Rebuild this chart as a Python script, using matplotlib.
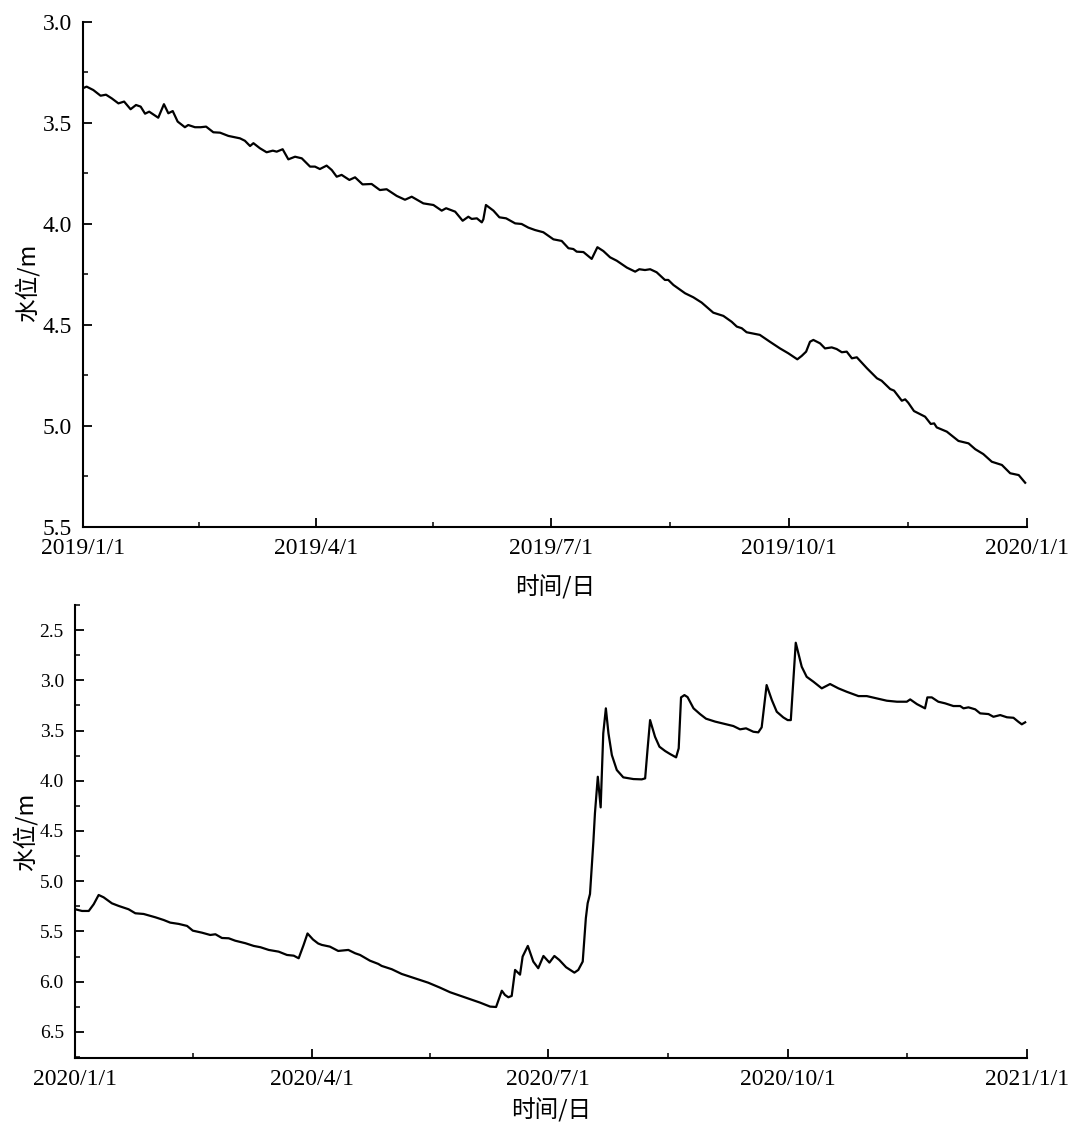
import matplotlib
matplotlib.use('Agg')
import matplotlib.pyplot as plt
import matplotlib.dates as mdates
from matplotlib.ticker import FixedLocator, FuncFormatter, MultipleLocator
import pandas as pd

plt.rcParams['font.family'] = ['Liberation Serif', 'Noto Sans CJK SC']

# ---------------- data ----------------
start_2019 = '2019-01-01'
days_2019 = [0, 1.4, 4, 6.8, 8.9, 11.1, 13.7, 15.9, 18.4, 20.5, 22.3, 24, 25.6, 29.1, 31.3, 33, 34.7,
             36.6, 39.4, 40.7, 43.3, 45.5, 47.6, 50.4, 53, 56.2, 60.7, 62.6, 64.6, 65.9, 68.4, 71, 73.4,
             74.9, 77.2, 79.4, 82, 84.6, 87.8, 89.7, 91.6, 94.2, 96.2, 98.1, 100, 103, 105.2, 108.1,
             111.6, 114.8, 117.4, 121.3, 124.5, 127.1, 131.6, 135.5, 138.7, 140.4, 143.9, 146.8, 149,
             150.3, 152.3, 154.2, 154.8, 155.8, 158.7, 161, 163.6, 167.1, 169.6, 172.2, 174.8, 178,
             181.9, 185.1, 187.7, 189.6, 190.9, 193.5, 196.7, 198.9, 201.2, 203.8, 206.4, 210.3, 213.5,
             215.1, 217.3, 219.3, 221.8, 225, 226.3, 228.3, 232.8, 236, 239.2, 243.7, 247.6, 250.8,
             252.8, 254.7, 256.6, 261.7, 265.6, 269.5, 272.7, 276.2, 277.9, 279.6, 281.1, 282.4, 285,
             286.9, 289.5, 291.4, 293.4, 295.3, 297.3, 299.2, 303.1, 307, 308.8, 312.1, 313.6, 316.6,
             317.9, 319.1, 321.3, 325.6, 327.8, 329.1, 330.1, 334, 338.5, 342.4, 345, 348.1, 351.4,
             355.3, 358.5, 361.8, 364.3]
level_2019 = [3.328, 3.320, 3.337, 3.365, 3.360, 3.378, 3.403, 3.394, 3.432, 3.411, 3.419, 3.454, 3.444,
              3.474, 3.407, 3.452, 3.441, 3.493, 3.521, 3.510, 3.521, 3.521, 3.518, 3.546, 3.548, 3.564,
              3.576, 3.588, 3.614, 3.600, 3.625, 3.645, 3.637, 3.642, 3.630, 3.680, 3.667, 3.675, 3.716,
              3.716, 3.728, 3.711, 3.733, 3.766, 3.757, 3.782, 3.769, 3.804, 3.802, 3.832, 3.828, 3.861,
              3.880, 3.865, 3.898, 3.906, 3.934, 3.922, 3.939, 3.984, 3.964, 3.975, 3.972, 3.992, 3.977,
              3.906, 3.934, 3.967, 3.972, 3.997, 4.000, 4.018, 4.030, 4.041, 4.076, 4.084, 4.120, 4.124,
              4.137, 4.139, 4.173, 4.115, 4.134, 4.165, 4.182, 4.216, 4.236, 4.224, 4.228, 4.224, 4.239,
              4.277, 4.277, 4.302, 4.343, 4.363, 4.389, 4.439, 4.455, 4.484, 4.508, 4.516, 4.536, 4.549,
              4.583, 4.616, 4.640, 4.670, 4.653, 4.632, 4.583, 4.574, 4.591, 4.616, 4.611, 4.619, 4.635,
              4.632, 4.665, 4.660, 4.714, 4.764, 4.776, 4.817, 4.825, 4.875, 4.868, 4.885, 4.926, 4.954,
              4.990, 4.987, 5.007, 5.028, 5.074, 5.086, 5.115, 5.139, 5.177, 5.193, 5.234, 5.243, 5.281]

start_2020 = '2020-01-01'
days_2020 = [0.1, 2.7, 5.3, 7.2, 9.1, 11, 14.2, 16.8, 20.6, 23.2, 26.4, 30.9, 34.1, 36.6, 39.9, 43.1,
             45.3, 48.8, 52, 54, 56.5, 59.1, 61.6, 65.5, 68.7, 71.3, 74.5, 78.3, 81.5, 84.1, 86, 87.9,
             89.4, 91.5, 93.5, 94.9, 98.0, 101.2, 105.1, 107.7, 109.6, 113.4, 116.6, 117.9, 121.8, 125.6,
             128.8, 132, 135.8, 140.3, 144.2, 148, 151.9, 155.7, 159.6, 161.9, 164.1, 165.3, 166.6, 167.9,
             169.2, 171.1, 172.1, 174.1, 176.2, 178.1, 180.1, 182.4, 184.3, 186.2, 188.8, 192, 193.5,
             195.2, 196.4, 197.1, 198, 199.3, 199.9, 201, 202.1, 203.1, 204.1, 205.1, 206.4, 208.3,
             210.8, 214.7, 217.9, 219.2, 220.1, 221.1, 223, 224.7, 226.9, 228.8, 231.1, 232.1, 233,
             234.3, 235.5, 237.8, 240.3, 242.6, 246.1, 249.9, 253.1, 255.7, 258, 260.8, 262.7, 264,
             265.9, 267.9, 269.8, 272.3, 274, 275.2, 277.1, 279.4, 281.3, 283.9, 287.1, 290.3, 293.5,
             296.7, 301.2, 304.4, 308.3, 312.1, 316, 319.8, 321.1, 323.7, 326.8, 327.7, 329.4, 331.9,
             334.5, 337.7, 340.3, 341.6, 343.5, 346.1, 348, 351.2, 353.1, 355.7, 358.3, 360.8, 362.7,
             364, 365.3]
level_2020 = [5.279, 5.296, 5.296, 5.229, 5.137, 5.160, 5.220, 5.246, 5.279, 5.319, 5.326, 5.359, 5.386,
              5.412, 5.425, 5.445, 5.492, 5.512, 5.535, 5.528, 5.565, 5.568, 5.592, 5.617, 5.644, 5.657,
              5.684, 5.701, 5.734, 5.741, 5.767, 5.634, 5.520, 5.580, 5.620, 5.634, 5.651, 5.694, 5.684,
              5.717, 5.734, 5.791, 5.823, 5.843, 5.876, 5.923, 5.950, 5.976, 6.010, 6.059, 6.105, 6.139,
              6.175, 6.208, 6.248, 6.252, 6.090, 6.132, 6.155, 6.142, 5.883, 5.930, 5.750, 5.644, 5.800,
              5.866, 5.744, 5.810, 5.744, 5.784, 5.856, 5.910, 5.883, 5.800, 5.369, 5.219, 5.127, 4.606,
              4.324, 3.960, 4.265, 3.528, 3.279, 3.528, 3.744, 3.893, 3.966, 3.983, 3.986, 3.976, 3.694,
              3.396, 3.562, 3.661, 3.704, 3.734, 3.767, 3.677, 3.170, 3.147, 3.167, 3.279, 3.336, 3.382,
              3.411, 3.435, 3.455, 3.488, 3.478, 3.512, 3.518, 3.468, 3.047, 3.196, 3.313, 3.369, 3.396,
              3.396, 2.626, 2.865, 2.965, 3.014, 3.080, 3.037, 3.080, 3.114, 3.157, 3.157, 3.180, 3.203,
              3.213, 3.213, 3.190, 3.237, 3.279, 3.170, 3.170, 3.213, 3.229, 3.256, 3.256, 3.279, 3.269,
              3.289, 3.329, 3.336, 3.363, 3.346, 3.368, 3.373, 3.413, 3.438, 3.418]

quarters_2019 = ['2019-01-01', '2019-04-01', '2019-07-01', '2019-10-01', '2020-01-01']
quarters_2020 = ['2020-01-01', '2020-04-01', '2020-07-01', '2020-10-01', '2021-01-01']
x_label = '时间/日'
y_label = '水位/m'

# ---------------- figure ----------------
fig = plt.figure(figsize=(10.68, 11.27), dpi=100)
ax1 = fig.add_axes([0.0777, 0.5324, 0.8839, 0.4481])
ax2 = fig.add_axes([0.0702, 0.0612, 0.8914, 0.4020])


def to_dates(start, days):
    return pd.Timestamp(start) + pd.to_timedelta(days, unit='D')


def date_fmt(x, pos=None):
    d = mdates.num2date(x)
    return f"{d.year}/{d.month}/{d.day}"


def style(ax, quarters, ylim, ymaj, ymin_step, ysize, xsize):
    q = [mdates.date2num(pd.Timestamp(s)) for s in quarters]
    mids = [(a + b) / 2 for a, b in zip(q[:-1], q[1:])]
    ax.set_xlim(q[0], q[-1])
    ax.xaxis.set_major_locator(FixedLocator(q))
    ax.xaxis.set_minor_locator(FixedLocator(mids))
    ax.xaxis.set_major_formatter(FuncFormatter(date_fmt))
    ax.set_ylim(*ylim)
    ax.yaxis.set_major_locator(MultipleLocator(ymaj))
    ax.yaxis.set_minor_locator(MultipleLocator(ymin_step))
    ax.yaxis.set_major_formatter(FuncFormatter(lambda v, p: f"{v:.1f}"))
    for s in ['top', 'right']:
        ax.spines[s].set_visible(False)
    for s in ['left', 'bottom']:
        ax.spines[s].set_linewidth(1.5)
    ax.tick_params(which='major', direction='in', length=6.5, width=1.3, pad=8)
    ax.tick_params(which='minor', direction='in', length=3.8, width=1.1)
    ax.tick_params(axis='y', labelsize=ysize)
    ax.tick_params(axis='x', labelsize=xsize)


ax1.plot(to_dates(start_2019, days_2019), level_2019, color='black', lw=1.6)
style(ax1, quarters_2019, (5.5, 3.0), 0.5, 0.25, 17, 17)
ax1.set_xlabel(x_label, family=['Noto Sans CJK SC'], fontsize=17)
ax1.set_ylabel(y_label, family=['Noto Sans CJK SC'], fontsize=17)
ax1.xaxis.set_label_coords(0.5, -0.095)
ax1.yaxis.set_label_coords(-0.046, 0.483)

ax2.plot(to_dates(start_2020, days_2020), level_2020, color='black', lw=1.6)
style(ax2, quarters_2020, (6.76, 2.25), 0.5, 0.25, 14, 17)
ax2.set_xlabel(x_label, family=['Noto Sans CJK SC'], fontsize=17)
ax2.set_ylabel(y_label, family=['Noto Sans CJK SC'], fontsize=17)
ax2.xaxis.set_label_coords(0.5, -0.088)
ax2.yaxis.set_label_coords(-0.039, 0.5)

fig.savefig('out.png', dpi=100, facecolor='white')
